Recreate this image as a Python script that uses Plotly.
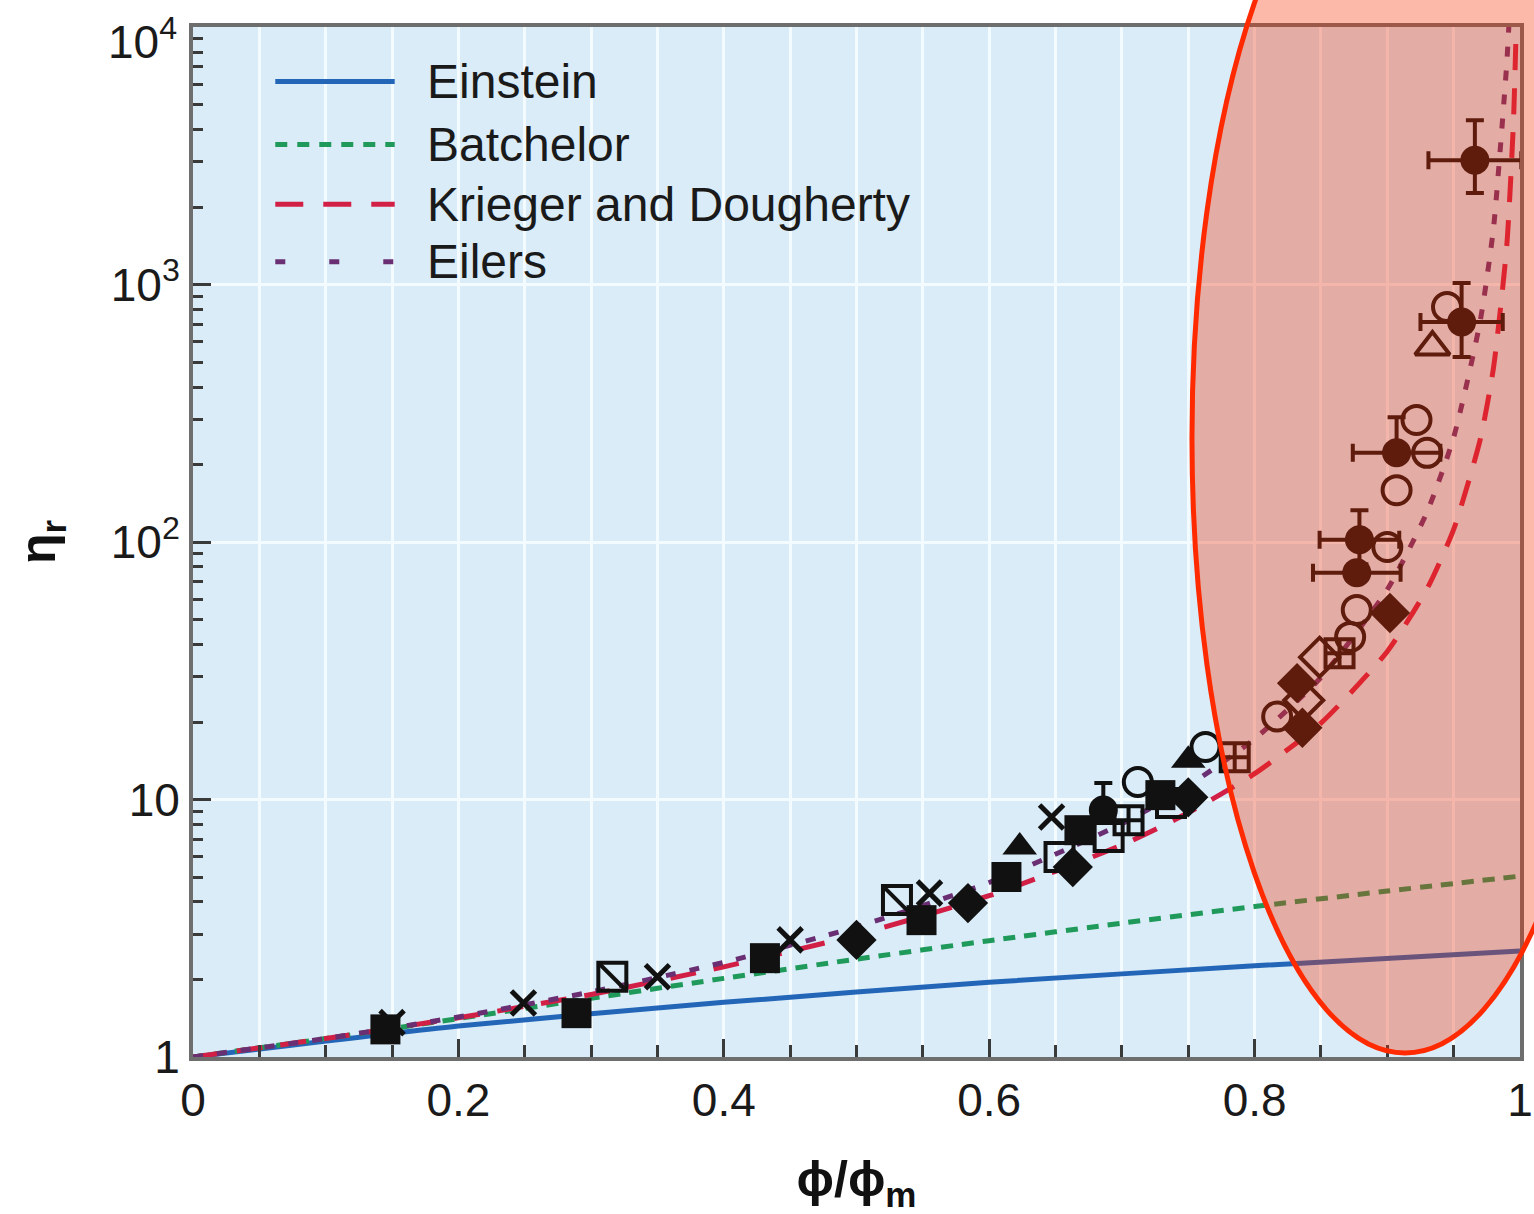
import plotly.graph_objects as go

# ---- theoretical curves: relative viscosity vs reduced volume fraction ----
einstein_x = [0.0, 0.2, 0.4, 0.6, 0.8, 1.0]
einstein_y = [1.0, 1.32, 1.63, 1.95, 2.26, 2.58]

batchelor_x = [0.0, 0.1, 0.2, 0.3, 0.4, 0.5, 0.6, 0.7, 0.8, 0.9, 1.0]
batchelor_y = [1.0, 1.18, 1.41, 1.69, 2.02, 2.40, 2.83, 3.31, 3.84, 4.41, 5.04]

kd_x = [0.0, 0.1, 0.2, 0.3, 0.4, 0.5, 0.6, 0.7, 0.75, 0.8, 0.85, 0.9, 0.93,
        0.95, 0.97, 0.98, 0.99, 0.995, 0.997, 0.998]
kd_y = [1.0, 1.18, 1.42, 1.75, 2.24, 2.98, 4.23, 6.66, 8.88, 12.6, 19.8, 37.6,
        65.9, 112, 250, 474, 1410, 4210, 9410, 17800]

eilers_x = [0.0, 0.1, 0.2, 0.3, 0.4, 0.5, 0.6, 0.7, 0.75, 0.8, 0.85, 0.9, 0.93,
            0.95, 0.97, 0.98, 0.985, 0.99, 0.992]
eilers_y = [1.0, 1.18, 1.43, 1.79, 2.33, 3.20, 4.76, 8.05, 11.3, 17.2, 29.8,
            65.4, 131, 255, 720, 1650, 3300, 7200, 11000]

series_names = ["Einstein", "Batchelor", "Krieger and Dougherty", "Eilers"]
series_colors = ["#2366b8", "#1f9a5a", "#d21f45", "#6a2f72"]
series_dash = ["solid", "12px,9px", "26px,18px", "10px,14px"]
legend_dash = ["solid", "12px,10px", "28px,20px", "10px,44px"]

# ---- experimental data ----
sq_fill_x = [0.145, 0.289, 0.431, 0.549, 0.613, 0.668, 0.729]
sq_fill_y = [1.28, 1.48, 2.42, 3.40, 5.0, 7.6, 10.4]

sq_diag_x = [0.316, 0.5305]
sq_diag_y = [2.05, 4.07]

cross_x = [0.150, 0.249, 0.350, 0.450, 0.555, 0.647]
cross_y = [1.36, 1.62, 2.05, 2.85, 4.33, 8.55]

dia_fill_x = [0.500, 0.584, 0.663, 0.750, 0.832, 0.836, 0.902]
dia_fill_y = [2.85, 3.96, 5.47, 10.2, 28.3, 19.0, 53.0]

tri_fill_x = [0.623, 0.750]
tri_fill_y = [6.54, 14.2]

sq_open_x = [0.653, 0.690, 0.737]
sq_open_y = [5.98, 7.15, 9.7]

sq_plus_x = [0.705, 0.785, 0.864]
sq_plus_y = [8.3, 14.6, 37.0]

circ_open_x = [0.712, 0.763, 0.817, 0.872, 0.877, 0.900, 0.907, 0.930, 0.922, 0.945]
circ_open_y = [11.7, 16.0, 21.0, 42.8, 54.5, 95.7, 159, 222, 298, 818]

dia_open_x = [0.837, 0.849]
dia_open_y = [24.3, 35.7]

tri_open_x = [0.934]
tri_open_y = [572]

circ_fill_x = [0.686, 0.877, 0.879, 0.907, 0.956, 0.966]
circ_fill_y = [9.1, 76, 102, 222, 715, 3040]
circ_fill_xerr = [0.0, 0.033, 0.030, 0.033, 0.031, 0.035]
circ_fill_yerr_up = [2.5, 0.0, 31, 83, 298, 1310]
circ_fill_yerr_dn = [0.0, 0.0, 20, 0.0, 192, 775]

x_tick_vals = [0, 0.2, 0.4, 0.6, 0.8, 1.0]
x_tick_text = ["0", "0.2", "0.4", "0.6", "0.8", "1"]
y_tick_vals = [1, 10, 100, 1000, 10000]
y_tick_text = ["1", "10", "10<sup>2</sup>", "10<sup>3</sup>", "10<sup>4</sup>"]

FONT = "Liberation Sans, Arial, sans-serif"
INK = "#111111"
TICK_SIZE = 46

fig = go.Figure()

# model curves
curves = [(einstein_x, einstein_y), (batchelor_x, batchelor_y),
          (kd_x, kd_y), (eilers_x, eilers_y)]
for (cx, cy), name, col, dash in zip(curves, series_names, series_colors, series_dash):
    fig.add_trace(go.Scatter(
        x=cx, y=cy, mode="lines", name=name, showlegend=False,
        line=dict(color=col, width=5, dash=dash, shape="spline", smoothing=0.6),
    ))


def add_markers(xs, ys, symbol, size, filled=True, lw=4):
    fig.add_trace(go.Scatter(
        x=xs, y=ys, mode="markers", showlegend=False,
        marker=dict(symbol=symbol, size=size, color=INK,
                    line=dict(color=INK, width=(0 if filled else lw))),
    ))


add_markers(sq_fill_x, sq_fill_y, "square", 30)
add_markers(sq_diag_x, sq_diag_y, "square-open", 28, filled=False)
add_markers(sq_diag_x, sq_diag_y, "line-nw", 26, filled=False)
add_markers(cross_x, cross_y, "x-thin-open", 24, filled=False, lw=5)
add_markers(dia_fill_x, dia_fill_y, "diamond", 31)
add_markers(tri_fill_x, tri_fill_y, "triangle-up", 30)
add_markers(sq_open_x, sq_open_y, "square-open", 28, filled=False)
add_markers(sq_plus_x, sq_plus_y, "square-cross-open", 28, filled=False)
add_markers(circ_open_x, circ_open_y, "circle-open", 28, filled=False)
add_markers(dia_open_x, dia_open_y, "diamond-open", 30, filled=False)
add_markers(tri_open_x, tri_open_y, "triangle-up-open", 30, filled=False)

fig.add_trace(go.Scatter(
    x=circ_fill_x, y=circ_fill_y, mode="markers", showlegend=False,
    marker=dict(symbol="circle", size=29, color=INK, line=dict(width=0)),
    error_x=dict(type="data", array=circ_fill_xerr, color=INK, thickness=4, width=9),
    error_y=dict(type="data", symmetric=False, array=circ_fill_yerr_up,
                 arrayminus=circ_fill_yerr_dn, color=INK, thickness=4, width=9),
))

# legend drawn as line samples with text labels
shapes = []
annotations = []
leg_x0, leg_x1, leg_tx = 0.062, 0.152, 0.175
leg_rows = [0.947, 0.886, 0.828, 0.772]
for name, col, dash, ry in zip(series_names, series_colors, legend_dash, leg_rows):
    shapes.append(dict(type="line", xref="paper", yref="paper",
                       x0=leg_x0, x1=leg_x1, y0=ry, y1=ry,
                       line=dict(color=col, width=5, dash=dash), layer="above"))
    annotations.append(dict(xref="paper", yref="paper", x=leg_tx, y=ry,
                            text=name, showarrow=False, xanchor="left",
                            yanchor="middle",
                            font=dict(family=FONT, size=48, color="#1a1a1a")))

# the topmost decade label sits a little below its tick so it stays on the page
annotations.append(dict(xref="paper", yref="y", x=0, y=4, xanchor="right",
                        yanchor="middle", xshift=-14, yshift=-12,
                        text=y_tick_text[-1], showarrow=False,
                        font=dict(family=FONT, size=TICK_SIZE, color="#1a1a1a")))
y_axis_text = y_tick_text[:-1] + [""]

# highlighted high-concentration region
shapes.append(dict(type="circle", xref="paper", yref="paper",
                   x0=0.7528, x1=1.0739, y0=0.0039, y1=1.198,
                   fillcolor="rgba(246,49,5,0.34)",
                   line=dict(color="#ff2a00", width=5), layer="above"))

axis_common = dict(
    showline=True, linecolor="#6e6e6e", linewidth=4, mirror=True,
    ticks="inside", tickcolor="#3a3a3a", tickwidth=3, ticklen=18,
    zeroline=False, showgrid=True, gridcolor="#f3fbff", gridwidth=3,
    automargin=False, ticklabeloverflow="allow",
    tickfont=dict(family=FONT, size=TICK_SIZE, color="#1a1a1a"),
)

fig.update_layout(
    width=1534, height=1214,
    margin=dict(l=193, r=14, t=27, b=157),
    paper_bgcolor="white", plot_bgcolor="#d9ecf8",
    showlegend=False,
    shapes=shapes, annotations=annotations,
    xaxis=dict(
        range=[0, 1], tickmode="array", tickvals=x_tick_vals, ticktext=x_tick_text,
        minor=dict(tickmode="linear", tick0=0, dtick=0.05, ticks="inside",
                   ticklen=12, tickwidth=3, tickcolor="#3a3a3a",
                   showgrid=True, gridcolor="#f3fbff", gridwidth=3),
        title=dict(text="<b>ϕ/ϕ<sub>m</sub></b>", standoff=40,
                   font=dict(family=FONT, size=50, color="#111111")),
        **axis_common,
    ),
    yaxis=dict(
        type="log", range=[0, 4.0002], tickmode="array",
        tickvals=y_tick_vals, ticktext=y_axis_text,
        minor=dict(dtick="D1", ticks="inside", ticklen=10, tickwidth=3,
                   tickcolor="#3a3a3a", showgrid=False),
        title=dict(text="<b>η<sub>r</sub></b>", standoff=40,
                   font=dict(family=FONT, size=50, color="#111111")),
        **axis_common,
    ),
)

fig.write_html("out.html")
